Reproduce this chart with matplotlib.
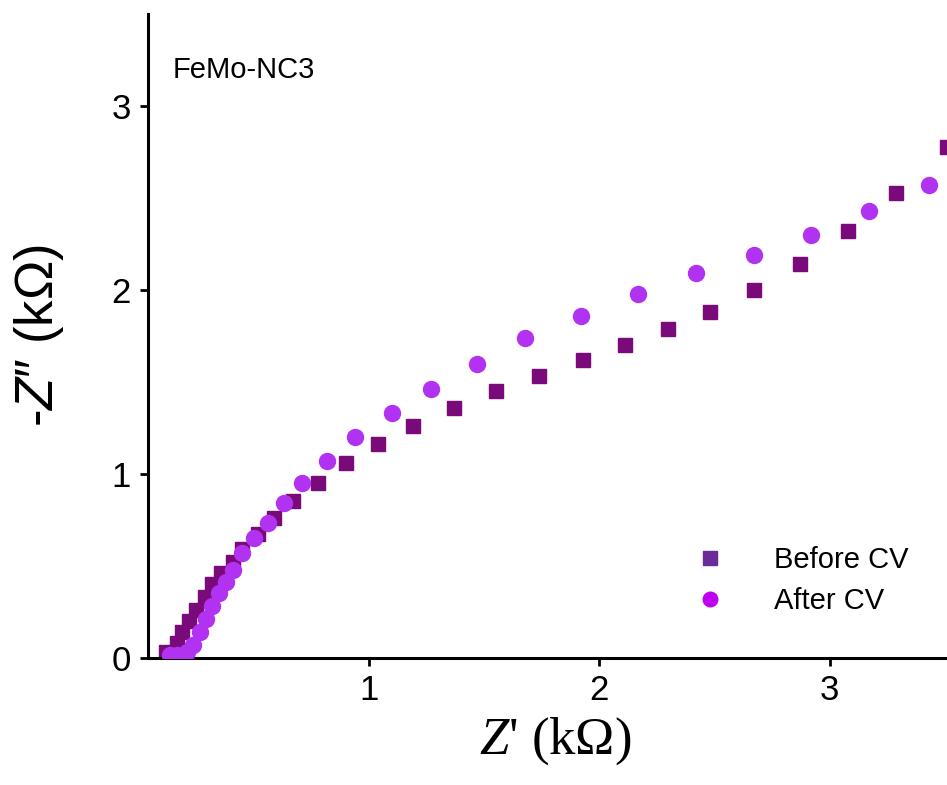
import numpy as np
import matplotlib.pyplot as plt
from matplotlib.lines import Line2D

# Nyquist data, FeMo-NC3 (kOhm)
zre_before = [0.12, 0.165, 0.19, 0.22, 0.25, 0.29, 0.32, 0.36, 0.41, 0.45, 0.52, 0.59,
              0.67, 0.78, 0.90, 1.04, 1.19, 1.37, 1.55, 1.74, 1.93, 2.11, 2.30, 2.48,
              2.67, 2.87, 3.08, 3.29, 3.51]
zim_before = [0.03, 0.08, 0.14, 0.20, 0.26, 0.33, 0.40, 0.46, 0.52, 0.59, 0.675, 0.76,
              0.855, 0.95, 1.06, 1.16, 1.26, 1.36, 1.45, 1.535, 1.62, 1.70, 1.79, 1.88,
              2.00, 2.14, 2.32, 2.53, 2.78]

zre_after = [0.135, 0.165, 0.21, 0.235, 0.265, 0.295, 0.32, 0.35, 0.38, 0.41, 0.45, 0.50,
             0.56, 0.63, 0.71, 0.82, 0.94, 1.10, 1.27, 1.47, 1.68, 1.92, 2.17, 2.42,
             2.67, 2.92, 3.17, 3.43]
zim_after = [0.015, 0.015, 0.03, 0.07, 0.14, 0.21, 0.28, 0.35, 0.41, 0.48, 0.57, 0.65,
             0.735, 0.84, 0.95, 1.07, 1.20, 1.33, 1.46, 1.60, 1.74, 1.86, 1.98, 2.09,
             2.19, 2.30, 2.43, 2.57]

c_before = "#7a0a7a"
c_after = "#b232f2"

plt.rcParams['font.family'] = ['Liberation Sans', 'DejaVu Sans']
plt.rcParams['mathtext.fontset'] = 'custom'
plt.rcParams['mathtext.rm'] = 'Liberation Serif'
plt.rcParams['mathtext.it'] = 'Liberation Serif:italic'
plt.rcParams['mathtext.sf'] = 'Liberation Sans:italic'

fig = plt.figure(figsize=(9.47, 7.85), dpi=100)
ax = fig.add_axes([0.156, 0.162, 0.844, 0.82])

ax.plot(zre_before, zim_before, ls="none", marker="s", ms=10, color=c_before, zorder=2)
ax.plot(zre_after, zim_after, ls="none", marker="o", ms=11.5, color=c_after, zorder=3)

ax.set_xlim(0.04, 3.51)
ax.set_ylim(0, 3.5)
ax.set_xticks([1, 2, 3])
ax.set_yticks([0, 1, 2, 3])

for s in ["top", "right"]:
    ax.spines[s].set_visible(False)
for s in ["left", "bottom"]:
    ax.spines[s].set_linewidth(2.2)
ax.tick_params(direction="out", length=6, width=2, labelsize=25, pad=6)

ax.set_xlabel("$Z$' (k\u03a9)", fontsize=38, family="Liberation Serif", labelpad=4)
ax.xaxis.set_label_coords(0.51, -0.09)
ax.set_ylabel("-$\\mathsf{Z}$\u2033 (k\u03a9)", fontsize=38, labelpad=33)

ax.text(0.031, 0.913, "FeMo-NC3", transform=ax.transAxes, fontsize=21, va="center")

handles = [
    Line2D([], [], ls="none", marker="s", ms=9.5, color="#6a2c9a"),
    Line2D([], [], ls="none", marker="o", ms=10.5, color="#c000f0"),
]
ax.legend(handles, ["Before CV", "After CV"], loc="lower right", bbox_to_anchor=(0.985, 0.025),
          frameon=False, fontsize=21, handletextpad=1.2, labelspacing=0.45)

fig.savefig("out.png", dpi=100)
